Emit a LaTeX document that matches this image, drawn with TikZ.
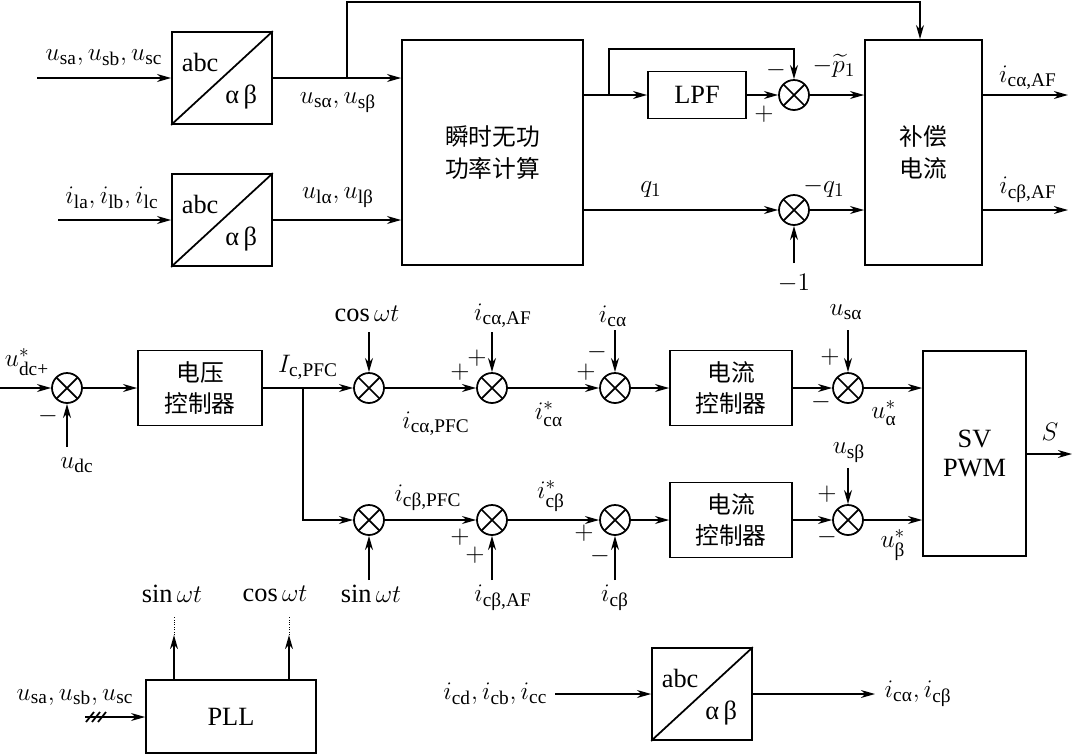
\documentclass[tikz,border=0pt]{standalone}
\usepackage{amsmath}
\usepackage{fontspec}
\setmainfont{Liberation Serif}
\newfontfamily\cjk{Noto Sans CJK SC}
\DeclareMathSizes{15}{15}{11}{8}
\usetikzlibrary{arrows.meta,calc}

\tikzset{
  blk/.style={draw, line width=1pt, inner sep=0pt, align=center},
  cn/.style={font=\fontsize{13.5}{18}\selectfont\cjk},
  sumnode/.style={draw, circle, line width=1pt, minimum size=0.6cm, inner sep=0pt,
    path picture={\draw[line width=1pt]
      (path picture bounding box.north west) -- (path picture bounding box.south east)
      (path picture bounding box.north east) -- (path picture bounding box.south west);}},
  ar/.style={-{Stealth[length=8pt,width=4.5pt,inset=2.5pt]}},
}

\begin{document}
\begin{tikzpicture}[x=0.02cm, y=-0.02cm, line width=1pt, font=\fontsize{15}{17}\selectfont]
    \useasboundingbox (0,0) rectangle (1072,755);

    % abc/alpha-beta blocks
    \foreach \n/\x/\y in {t1/222/78, t2/222/220, t3/702/694}{
      \node[blk, minimum width=2cm, minimum height=1.84cm] (\n) at (\x,\y) {};
      \draw (\n.south west) -- (\n.north east);
      \node (\n-abc) at ($(\n.north west)+(29,31)$) {abc};
      \node (\n-ab) at ($(\n.north west)+(70,66)$) {α\,β};
    }

    \node[blk, cn, minimum width=3.62cm, minimum height=4.5cm] (pq) at (492.5,152.5) {瞬时无功\\功率计算};
    \node[blk, minimum width=1.96cm, minimum height=0.94cm] (lpf) at (697,95) {LPF};
    \node[blk, cn, minimum width=2.34cm, minimum height=4.5cm] (comp) at (923.5,152.5) {补偿\\电流};
    \node[blk, cn, minimum width=2.48cm, minimum height=1.5cm] (vc) at (200,388) {电压\\控制器};
    \node[blk, cn, minimum width=2.44cm, minimum height=1.5cm] (cc1) at (731,388) {电流\\控制器};
    \node[blk, cn, minimum width=2.44cm, minimum height=1.5cm] (cc2) at (731,520) {电流\\控制器};
    \node[blk, minimum width=2.06cm, minimum height=4.1cm] (sv) at (974.5,453.5) {SV\\PWM};
    \node[blk, minimum width=3.4cm, minimum height=1.46cm] (pll) at (231,716.5) {PLL};

    \foreach \n/\x/\y in {s1/794/95, s2/794/210, s3/67/388, s4/369/388, s5/369/520,
      s6/492/388, s7/615/388, s8/848/388, s9/492/520, s10/615/520, s11/848/520}
      \node[sumnode] (\n) at (\x,\y) {};

    % top part
    \coordinate (in1) at (37,78);
    \coordinate (in2) at (58,220);
    \draw[ar] (in1) -- (t1.west);
    \draw[ar] (in2) -- (t2.west);
    \draw[ar] (t1.east) -- (t1.east -| pq.west);
    \draw[ar] (t2.east) -- (t2.east -| pq.west);
    \coordinate (fb) at (347,78);
    \coordinate (fbtop) at (920,2);
    \draw[ar] (fb) |- (fbtop) -- (fbtop |- comp.north);
    \draw[ar] (pq.east |- lpf.west) -- (lpf.west);
    \coordinate (br) at (609,95);
    \coordinate (brtop) at (794,49);
    \draw[ar] (br) |- (brtop) -- (s1.north);
    \draw[ar] (lpf.east) -- (s1.west);
    \draw[ar] (s1.east) -- (s1.east -| comp.west);
    \draw[ar] (pq.east |- s2.west) -- (s2.west);
    \coordinate (m1) at (794,263);
    \draw[ar] (m1) -- (s2.south);
    \draw[ar] (s2.east) -- (s2.east -| comp.west);
    \coordinate (o1) at (1068,95);
    \coordinate (o2) at (1068,210);
    \draw[ar] (comp.east |- o1) -- (o1);
    \draw[ar] (comp.east |- o2) -- (o2);

    \node (l1) at (104,58) {$u_{\text{sa}},u_{\text{sb}},u_{\text{sc}}$};
    \node (l2) at (112,198) {$i_{\text{la}},i_{\text{lb}},i_{\text{lc}}$};
    \node (l3) at (338,103) {$u_{\text{sα}},u_{\text{sβ}}$};
    \node (l4) at (338,198) {$u_{\text{lα}},u_{\text{lβ}}$};
    \node (l5) at (776,70) {$-$};
    \node (l6) at (764,114) {$+$};
    \node (l7) at (834,66) {$-\widetilde{p}_1$};
    \node (l8) at (651,190) {$q_1$};
    \node (l9) at (824,188) {$-q_1$};
    \node (l10) at (794,283) {$-1$};
    \node (l11) at (1028,78) {$i_{\text{cα,AF}}$};
    \node (l12) at (1028,190) {$i_{\text{cβ,AF}}$};

    % alpha row
    \coordinate (in3) at (0,388);
    \draw[ar] (in3) -- (s3.west);
    \node (l13) at (27,362) {$u^{*}_{\text{dc+}}$};
    \node (l14) at (48,416) {$-$};
    \coordinate (udc) at (67,447);
    \draw[ar] (udc) -- (s3.south);
    \node (l15) at (77,465) {$u_{\text{dc}}$};
    \draw[ar] (s3.east) -- (vc.west);
    \draw[ar] (vc.east) -- (s4.west);
    \node (l16) at (308,367) {$I_{\text{c,PFC}}$};
    \coordinate (br2) at (303,388);
    \draw[ar] (br2) |- (s5.west);
    \coordinate (cw1) at (369,332);
    \draw[ar] (cw1) -- (s4.north);
    \node (l17) at (367,314) {$\text{cos}\,\omega t$};
    \draw[ar] (s4.east) -- (s6.west);
    \node (l18) at (436,424) {$i_{\text{cα,PFC}}$};
    \node (l19) at (460,372) {$+$};
    \node (l20) at (477,358) {$+$};
    \coordinate (af1) at (492,332);
    \draw[ar] (af1) -- (s6.north);
    \node (l21) at (503,316) {$i_{\text{cα,AF}}$};
    \draw[ar] (s6.east) -- (s7.west);
    \node (l22) at (549,414) {$i^{*}_{\text{cα}}$};
    \node (l23) at (586,372) {$+$};
    \node (l24) at (597,352) {$-$};
    \coordinate (ic1) at (615,330);
    \draw[ar] (ic1) -- (s7.north);
    \node (l25) at (613,316) {$i_{\text{cα}}$};
    \draw[ar] (s7.east) -- (cc1.west);
    \draw[ar] (cc1.east) -- (s8.west);
    \node (l26) at (830,357) {$+$};
    \node (l27) at (821,402) {$-$};
    \coordinate (us1) at (848,330);
    \draw[ar] (us1) -- (s8.north);
    \node (l28) at (846,312) {$u_{\text{sα}}$};
    \draw[ar] (s8.east) -- (s8.east -| sv.west);
    \node (l29) at (884,413) {$u^{*}_{\text{α}}$};
    \coordinate (so) at (1072,454);
    \draw[ar] (sv.east |- so) -- (so);
    \node (l30) at (1050,432) {$S$};

    % beta row
    \coordinate (sw1) at (369,580);
    \draw[ar] (sw1) -- (s5.south);
    \node (l31) at (371,594) {$\text{sin}\,\omega t$};
    \node (l32) at (428,498) {$i_{\text{cβ,PFC}}$};
    \draw[ar] (s5.east) -- (s9.west);
    \node (l33) at (460,537) {$+$};
    \node (l34) at (475,555) {$+$};
    \coordinate (af2) at (492,580);
    \draw[ar] (af2) -- (s9.south);
    \node (l35) at (503,598) {$i_{\text{cβ,AF}}$};
    \draw[ar] (s9.east) -- (s10.west);
    \node (l36) at (551,496) {$i^{*}_{\text{cβ}}$};
    \node (l37) at (584,533) {$+$};
    \node (l38) at (600,556) {$-$};
    \coordinate (ic2) at (615,580);
    \draw[ar] (ic2) -- (s10.south);
    \node (l39) at (615,598) {$i_{\text{cβ}}$};
    \draw[ar] (s10.east) -- (cc2.west);
    \draw[ar] (cc2.east) -- (s11.west);
    \node (l40) at (827,494) {$+$};
    \node (l41) at (827,537) {$-$};
    \coordinate (us2) at (848,468);
    \draw[ar] (us2) -- (s11.north);
    \node (l42) at (849,453) {$u_{\text{sβ}}$};
    \draw[ar] (s11.east) -- (s11.east -| sv.west);
    \node (l43) at (893,545) {$u^{*}_{\text{β}}$};

    % PLL and current transform
    \coordinate (pin) at (85,717);
    \draw[ar] (pin) -- (pll.west |- pin);
    \foreach \h in {90,96,102}
      \draw (\h-4,722) -- (\h+4,712);
    \node (l44) at (75,697) {$u_{\text{sa}},u_{\text{sb}},u_{\text{sc}}$};
    \coordinate (ps) at (174,635);
    \coordinate (pc) at (289,635);
    \draw[ar] (pll.north -| ps) -- (ps);
    \draw[ar] (pll.north -| pc) -- (pc);
    \draw[densely dotted, line width=0.4pt] (ps) -- ++(0,-18);
    \draw[densely dotted, line width=0.4pt] (pc) -- ++(0,-18);
    \node (l45) at (172,594) {$\text{sin}\,\omega t$};
    \node (l46) at (275,594) {$\text{cos}\,\omega t$};
    \coordinate (cin) at (555,694);
    \draw[ar] (cin) -- (t3.west);
    \node[anchor=east] (l47) at (554,694) {$i_{\text{cd}},i_{\text{cb}},i_{\text{cc}}$};
    \coordinate (cout) at (875,694);
    \draw[ar] (t3.east) -- (cout);
    \node[anchor=west] (l48) at (878,694) {$i_{\text{cα}},i_{\text{cβ}}$};
\end{tikzpicture}
\end{document}
